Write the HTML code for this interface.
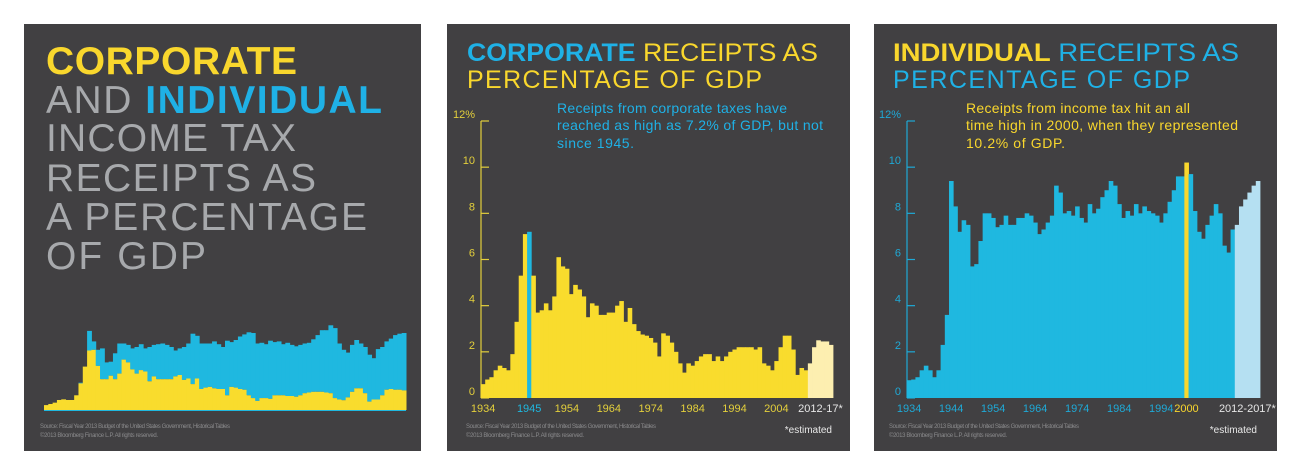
<!DOCTYPE html>
<html><head><meta charset="utf-8"><style>
html,body{margin:0;padding:0;background:#fff;}
svg{display:block;font-family:"Liberation Sans",sans-serif;}
</style></head><body>
<svg id="chart" width="1293" height="473" viewBox="0 0 1293 473" xmlns="http://www.w3.org/2000/svg">
<rect x="0" y="0" width="1293" height="473" fill="#ffffff"/>
<!-- Panel 1 -->
<g>
<rect x="24" y="24" width="397" height="427" fill="#414042"/>
<g font-size="39" fill="#a7a9ac">
<text x="46" y="74" font-weight="bold" fill="#f9d72d" textLength="251">CORPORATE</text>
<text x="46" y="113" textLength="336"><tspan>AND </tspan><tspan font-weight="bold" fill="#1fb1e6">INDIVIDUAL</tspan></text>
<text x="46" y="151" textLength="250">INCOME TAX</text>
<text x="46" y="191" textLength="270">RECEIPTS AS</text>
<text x="46" y="230" textLength="321">A PERCENTAGE</text>
<text x="46" y="269" textLength="160">OF GDP</text>
</g>
<g id="p1bars"></g>
<text x="40" y="428" font-size="6" fill="#8a8a8c" textLength="190">Source: Fiscal Year 2013 Budget of the United States Government, Historical Tables</text>
<text x="40" y="437" font-size="6" fill="#8a8a8c" textLength="118">©2013 Bloomberg Finance L.P. All rights reserved.</text>
</g>
<!-- Panel 2 -->
<g>
<rect x="447" y="24" width="403" height="427" fill="#414042"/>
<text x="467" y="61" font-size="25" fill="#f9d72d" textLength="351" lengthAdjust="spacingAndGlyphs"><tspan font-weight="bold" fill="#1fb1e6">CORPORATE</tspan> RECEIPTS AS</text>
<text x="467" y="88" font-size="25" fill="#f9d72d" textLength="295">PERCENTAGE OF GDP</text>
<g font-size="14" fill="#1fb1e6">
<text x="557" y="113" textLength="230">Receipts from corporate taxes have</text>
<text x="557" y="130" textLength="266">reached as high as 7.2% of GDP, but not</text>
<text x="557" y="148" textLength="77">since 1945.</text>
</g>
<g id="p2axis"></g>
<g id="p2bars"></g>
<g id="p2x"></g>
<text x="466" y="428" font-size="6" fill="#8a8a8c" textLength="190">Source: Fiscal Year 2013 Budget of the United States Government, Historical Tables</text>
<text x="466" y="437" font-size="6" fill="#8a8a8c" textLength="118">©2013 Bloomberg Finance L.P. All rights reserved.</text>
<text x="832" y="433" font-size="10" fill="#e8e8e8" text-anchor="end">*estimated</text>
</g>
<!-- Panel 3 -->
<g>
<rect x="874" y="24" width="403" height="427" fill="#414042"/>
<text x="893" y="61" font-size="25" fill="#1fb1e6" textLength="346" lengthAdjust="spacingAndGlyphs"><tspan font-weight="bold" fill="#f9d72d">INDIVIDUAL</tspan> RECEIPTS AS</text>
<text x="893" y="88" font-size="25" fill="#1fb1e6" textLength="297">PERCENTAGE OF GDP</text>
<g font-size="14" fill="#f9d72d">
<text x="966" y="113" textLength="224">Receipts from income tax hit an all</text>
<text x="966" y="130" textLength="272">time high in 2000, when they represented</text>
<text x="966" y="148" textLength="99">10.2% of GDP.</text>
</g>
<g id="p3axis"></g>
<g id="p3bars"></g>
<g id="p3x"></g>
<text x="889" y="428" font-size="6" fill="#8a8a8c" textLength="190">Source: Fiscal Year 2013 Budget of the United States Government, Historical Tables</text>
<text x="889" y="437" font-size="6" fill="#8a8a8c" textLength="118">©2013 Bloomberg Finance L.P. All rights reserved.</text>
<text x="1257" y="433" font-size="10" fill="#e8e8e8" text-anchor="end">*estimated</text>
</g>
</svg>
<script>
const startYear = 1934;
const firstEstimateYear = 2012;
const corporate = [0.6,0.8,0.9,1.2,1.4,1.3,1.2,1.9,3.3,5.3,7.1,7.2,5.3,3.7,3.8,4.1,3.8,4.4,6.1,5.7,5.6,4.5,4.9,4.7,4.4,3.5,4.1,4.0,3.6,3.6,3.7,3.7,4.0,4.2,3.3,3.9,3.2,2.9,2.75,2.7,2.6,2.4,1.8,2.8,2.7,2.4,2.0,1.5,1.1,1.5,1.4,1.6,1.8,1.9,1.9,1.6,1.8,1.6,1.8,2.0,2.1,2.2,2.2,2.2,2.2,2.1,2.2,1.5,1.4,1.2,1.6,2.2,2.7,2.7,2.1,1.0,1.3,1.2,1.5,2.2,2.5,2.45,2.45,2.3];
const individual = [0.77,0.8,0.9,1.2,1.4,1.2,0.9,1.2,2.3,3.6,9.4,8.3,7.2,7.7,7.5,5.7,5.8,6.8,8.0,8.0,7.8,7.4,7.5,7.9,7.5,7.5,7.8,7.8,8.0,7.9,7.6,7.1,7.3,7.6,7.9,9.2,8.9,8.0,8.1,7.9,8.3,7.8,7.6,8.4,8.0,8.2,8.7,9.0,9.4,9.2,8.4,7.8,8.1,7.9,8.4,8.0,8.3,8.1,8.0,7.9,7.6,8.0,8.5,9.0,9.6,9.6,10.2,9.7,8.1,7.2,6.9,7.5,7.9,8.4,8.0,6.6,6.3,7.3,7.5,8.3,8.6,8.9,9.2,9.4];
// overview panel values as drawn (corporate layer and combined total)
const overviewCorporate = [0.7,0.86,1.05,1.43,1.52,1.43,1.43,2.1,3.8,6.2,8.5,8.6,6.3,4.4,4.4,4.9,4.4,5.2,7.2,6.8,5.8,5.2,5.7,5.5,4.1,4.8,4.4,4.4,4.4,4.4,4.8,5.0,4.3,4.5,3.7,4.5,3.0,3.2,3.3,3.1,3.0,3.0,2.1,3.3,3.2,3.0,2.9,2.1,1.7,1.3,1.7,1.7,1.6,2.1,2.1,2.1,2.0,2.0,1.9,2.1,2.4,2.5,2.6,2.6,2.6,2.5,2.4,1.7,1.5,1.4,1.8,2.6,3.1,3.1,2.4,1.2,1.5,1.5,2.1,2.9,3.0,2.9,2.9,2.8];
const overviewTotal = [0.7,0.86,1.05,1.43,1.52,1.43,1.43,2.1,3.9,6.2,11.3,9.8,8.6,8.8,6.8,6.9,8.1,9.5,9.5,9.3,8.8,9.0,9.4,8.8,9.0,9.3,9.4,9.5,9.3,9.0,8.5,8.8,9.0,9.5,10.9,10.6,9.5,9.5,9.5,9.8,9.4,9.0,9.9,9.7,10.0,10.5,10.8,11.1,11.0,9.5,9.6,9.4,9.9,9.7,9.8,9.4,9.6,9.3,9.1,9.3,9.5,9.6,10.1,10.7,11.4,11.4,12.1,11.7,9.5,8.6,8.2,9.3,10.0,9.5,9.0,7.9,7.4,8.7,9.0,9.8,10.2,10.7,10.9,11.0];
const yTicks = [0,2,4,6,8,10,12];
const yTickLabels = ["0","2","4","6","8","10","12%"];
const corpXLabels = ["1934","1945","1954","1964","1974","1984","1994","2004","2012-17*"];
const corpXYears = [1934,1945,1954,1964,1974,1984,1994,2004,2014.5];
const indXLabels = ["1934","1944","1954","1964","1974","1984","1994","2000","2012-2017*"];
const indXYears = [1934,1944,1954,1964,1974,1984,1994,2000,2014.5];
const corpHighlightYear = 1945;
const indHighlightYear = 2000;

const NS = "http://www.w3.org/2000/svg";
function mk(parent, tag, attrs){const e=document.createElementNS(NS,tag);for(const k in attrs)e.setAttribute(k,attrs[k]);parent.appendChild(e);return e;}
const n = corporate.length;

// Panel 1 stacked
(function(){
  const g=document.getElementById('p1bars');
  const m=overviewTotal.length;
  const x0=44,x1=406,base=410,per=7.0,w=(x1-x0)/m;
  const xs=i=>x0+i*w, ys=v=>base-v*per;
  for(let i=0;i<m;i++){
    const c=overviewCorporate[i], t=overviewTotal[i];
    const r1=mk(g,'rect',{x:xs(i),y:ys(t),width:w+0.5,height:Math.max(0,ys(c)-ys(t)),fill:'#1fb8e0'});
    
    
    const r2=mk(g,'rect',{x:xs(i),y:ys(c),width:w+0.5,height:base-ys(c),fill:'#f9dc2d'});
    
    
  }
  const bl=mk(g,'rect',{x:x0,y:base,width:x1-x0,height:1,fill:'#1fb8e0'});
  
  
})();

function panel(axisId,barsId,xId,x0,x1,data,color,estColor,axisColor,hlYear,hlColor,xLabels,xYears){
  const base=398,per=(base-121)/12,w=(x1-x0)/n;
  const xs=i=>x0+i*w, ys=v=>base-v*per;
  const ga=document.getElementById(axisId);
  const ax=mk(ga,'line',{x1:x0,y1:ys(12),x2:x0,y2:base,stroke:axisColor,'stroke-width':1.2});
  
  
  yTicks.forEach((t,k)=>{
    const tk=mk(ga,'line',{x1:x0,y1:ys(t),x2:x0+8,y2:ys(t),stroke:axisColor,'stroke-width':1.2});
    
    
    const tl=mk(ga,'text',{x:x0-6,y:ys(t)-3,'font-size':11,fill:axisColor,'text-anchor':'end'});
    tl.textContent=yTickLabels[k];
    
    
  });
  const gb=document.getElementById(barsId);
  for(let i=0;i<n;i++){
    const yr=startYear+i;
    let f = yr>=firstEstimateYear?estColor:color;
    if(yr===hlYear) f=hlColor;
    const r=mk(gb,'rect',{x:xs(i),y:ys(data[i]),width:w+0.4,height:base-ys(data[i]),fill:f});
    
    
  }
  const gx=document.getElementById(xId);
  xLabels.forEach((lab,k)=>{
    const yr=xYears[k];
    let c = yr===hlYear?hlColor:(yr>=firstEstimateYear?'#e6e6e6':axisColor);
    const t=mk(gx,'text',{x:xs(yr-startYear)+w/2,y:412,'font-size':11,fill:c,'text-anchor':'middle'});
    t.textContent=lab;
    
    
  });
}
panel('p2axis','p2bars','p2x',481,833,corporate,'#f9dc2d','#fdefb0','#e3cf3c',corpHighlightYear,'#1fb8e0',corpXLabels,corpXYears);
panel('p3axis','p3bars','p3x',907,1260,individual,'#1fb8e0','#b5e0f2','#1fa9d6',indHighlightYear,'#f9d72d',indXLabels,indXYears);
</script>
</body></html>
